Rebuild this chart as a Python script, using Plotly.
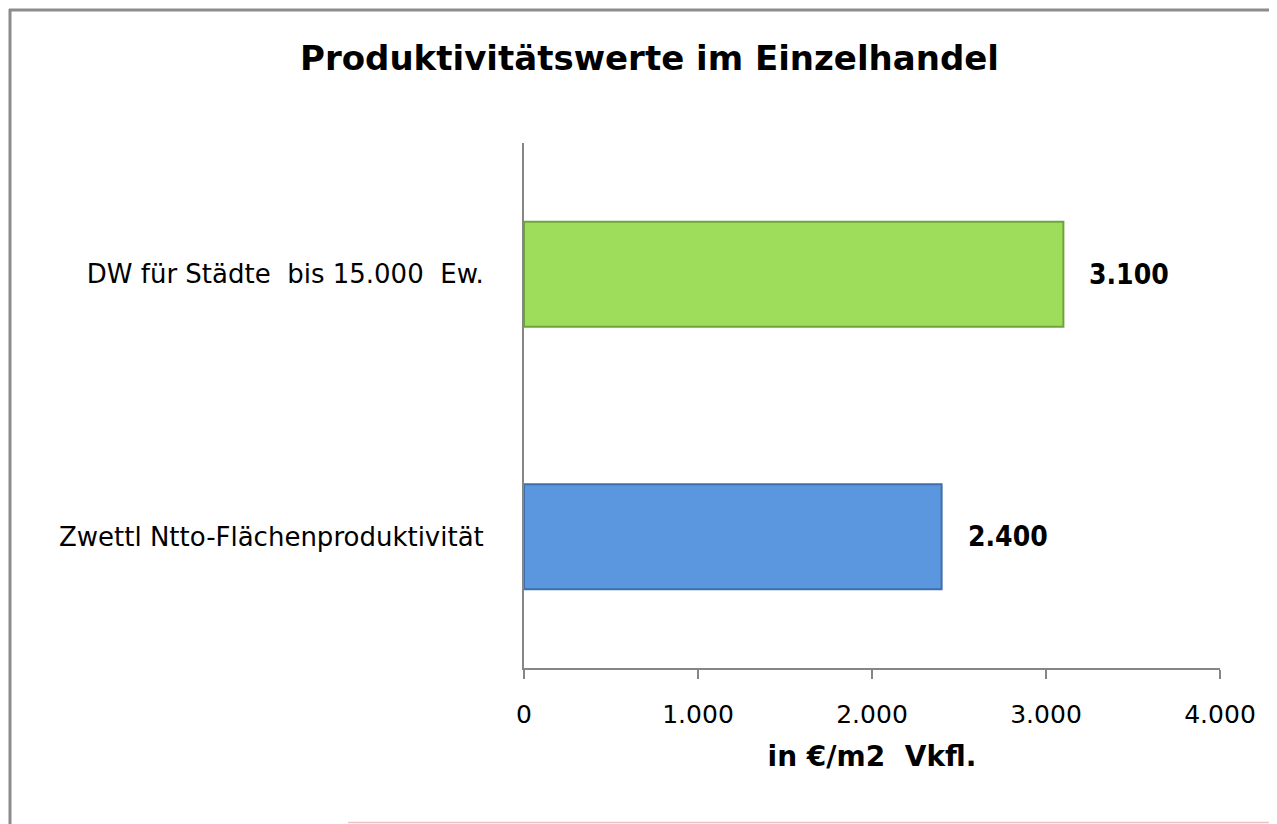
import plotly.graph_objects as go

categories = ["Zwettl Ntto-Flächenproduktivität", "DW für Städte\u00a0 bis 15.000\u00a0 Ew."]
values = [2400, 3100]
bar_colors = ["#5B97DE", "#9EDD5B"]
line_colors = ["#3E6FAA", "#6EA53A"]
x_ticks = [0, 1000, 2000, 3000, 4000]
title_text = "Produktivitätswerte im Einzelhandel"
x_title = "in €/m2\u00a0 Vkfl."

FONT = "DejaVu Sans, sans-serif"
FONT_C = "DejaVu Sans Condensed, DejaVu Sans, sans-serif"

OFF = 8  # page body margin
W, H = 1277 - OFF, 824 - OFF
L, R, T, B = 524 - OFF, 57, 143 - OFF, 824 - 668
pw = W - L - R
ph = H - T - B

def px(x):
    return (x - OFF - L) / pw

def py(y):
    return (H - B - (y - OFF)) / ph

fig = go.Figure()
fig.add_trace(go.Bar(
    y=categories, x=values, orientation="h",
    marker=dict(color=bar_colors, line=dict(color=line_colors, width=2)),
    width=0.4, hoverinfo="skip",
))

for c, v in zip(categories, values):
    fig.add_annotation(
        x=v, y=c, xref="x", yref="y", xanchor="left", yanchor="middle",
        xshift=24, showarrow=False,
        text="<b>" + f"{v:,}".replace(",", ".") + "</b>",
        font=dict(family=FONT_C, size=28, color="black"),
    )

# chart-area border (top, left) and faint bottom line
fig.add_shape(type="line", xref="paper", yref="paper",
              x0=px(9), x1=px(1290), y0=py(10), y1=py(10),
              line=dict(color="#8C8C8C", width=3))
fig.add_shape(type="line", xref="paper", yref="paper",
              x0=px(10), x1=px(10), y0=py(9), y1=py(830),
              line=dict(color="#8C8C8C", width=3))
fig.add_shape(type="line", xref="paper", yref="paper",
              x0=px(348), x1=px(1290), y0=py(822.5), y1=py(822.5),
              line=dict(color="#E8C4C8", width=1.5))

fig.update_layout(
    width=W, height=H,
    margin=dict(l=L, r=R, t=T, b=B, autoexpand=False),
    paper_bgcolor="white", plot_bgcolor="white",
    separators=",.",
    showlegend=False,
    bargap=0.6,
    title=dict(text="<b>" + title_text + "</b>", x=((305 + 994) / 2 - OFF) / W, xanchor="center",
               y=1 - (58 - OFF) / H, yanchor="middle",
               font=dict(family=FONT, size=34, color="black")),
    font=dict(family=FONT, color="black"),
)

fig.update_xaxes(
    range=[0, 4000], tickvals=x_ticks, tickformat=",d",
    showgrid=False, zeroline=False,
    showline=True, linecolor="#868686", linewidth=2,
    ticks="outside", ticklen=9, tickwidth=2, tickcolor="#868686",
    ticklabelstandoff=14,
    tickfont=dict(family=FONT, size=25, color="black"),
    title=dict(text="<b>" + x_title + "</b>", standoff=18,
               font=dict(family=FONT, size=28, color="black")),
)
fig.update_yaxes(
    showgrid=False, zeroline=False,
    showline=True, linecolor="#868686", linewidth=2,
    ticks="", ticklabelstandoff=33,
    tickfont=dict(family=FONT, size=26, color="black"),
)

fig.write_html("out.html")
